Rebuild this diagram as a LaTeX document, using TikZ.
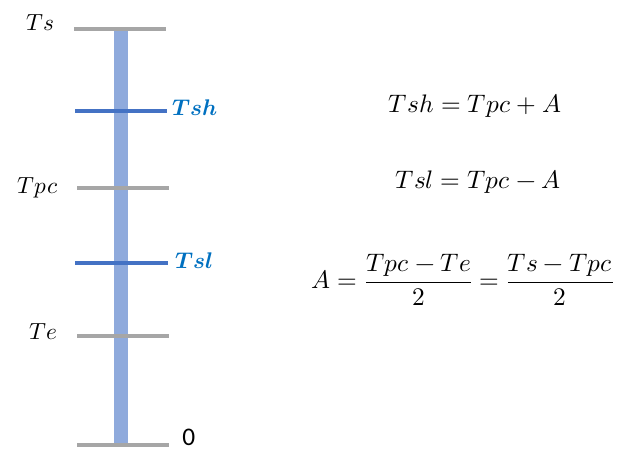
\documentclass[tikz,border=0pt]{standalone}
\usepackage{amsmath}
\usepackage{fontspec}
\usepackage{unicode-math}
\usepackage{xcolor}
\usepackage{tikz}

\setmathfont{Latin Modern Math}
\newfontfamily\zerofont{Carlito}
\definecolor{barblue}{HTML}{8FAADC}
\definecolor{tickgray}{HTML}{A6A6A6}
\definecolor{levelblue}{HTML}{4472C4}
\definecolor{labelblue}{HTML}{0070C0}

\begin{document}
\begin{tikzpicture}[x=0.75pt, y=-0.75pt,
  tick/.style={tickgray, line width=3pt},
  level/.style={levelblue, line width=3pt},
  templab/.style={font=\fontsize{17.5}{20}\selectfont, anchor=base east, inner sep=0pt},
  levellab/.style={font=\fontsize{17}{20}\selectfont, text=labelblue,
                   anchor=base west, inner sep=0pt},
  eqn/.style={font=\fontsize{19}{23}\selectfont, inner sep=0pt}]

  \useasboundingbox (0,0) rectangle (627,450);

  %% Vertical bar
  \fill[barblue] (114,31) rectangle (128,444);

  %% Gray ticks
  \draw[tick] (74,29) -- (166,29);
  \draw[tick] (77,188) -- (169,188);
  \draw[tick] (77,336) -- (169,336);
  \draw[tick] (77,445) -- (169,445);

  %% Blue levels
  \draw[level] (75,111) -- (167,111);
  \draw[level] (75,263) -- (168,263);

  %% Left labels
  \node[templab] (ts)  at (55,30)  {$Ts$};
  \node[templab] (tpc) at (58,193) {$Tpc$};
  \node[templab] (te)  at (58,339) {$Te$};
  \node[anchor=base west, inner sep=0pt, font=\zerofont\fontsize{19}{22}\selectfont]
    (zero) at (182,445) {0};

  %% Level labels
  \node[levellab] (tsh) at (172,115) {$\symbfit{Tsh}$};
  \node[levellab] (tsl) at (175,268) {$\symbfit{Tsl}$};

  %% Equations
  \node[eqn, anchor=base] (eqh) at (475,112) {$Tsh = Tpc + A$};
  \node[eqn, anchor=base] (eql) at (478,188) {$Tsl = Tpc - A$};
  \node[eqn] (eqa) at (463,280)
    {$A = \dfrac{Tpc - Te}{2} = \dfrac{Ts - Tpc}{2}$};

\end{tikzpicture}
\end{document}
